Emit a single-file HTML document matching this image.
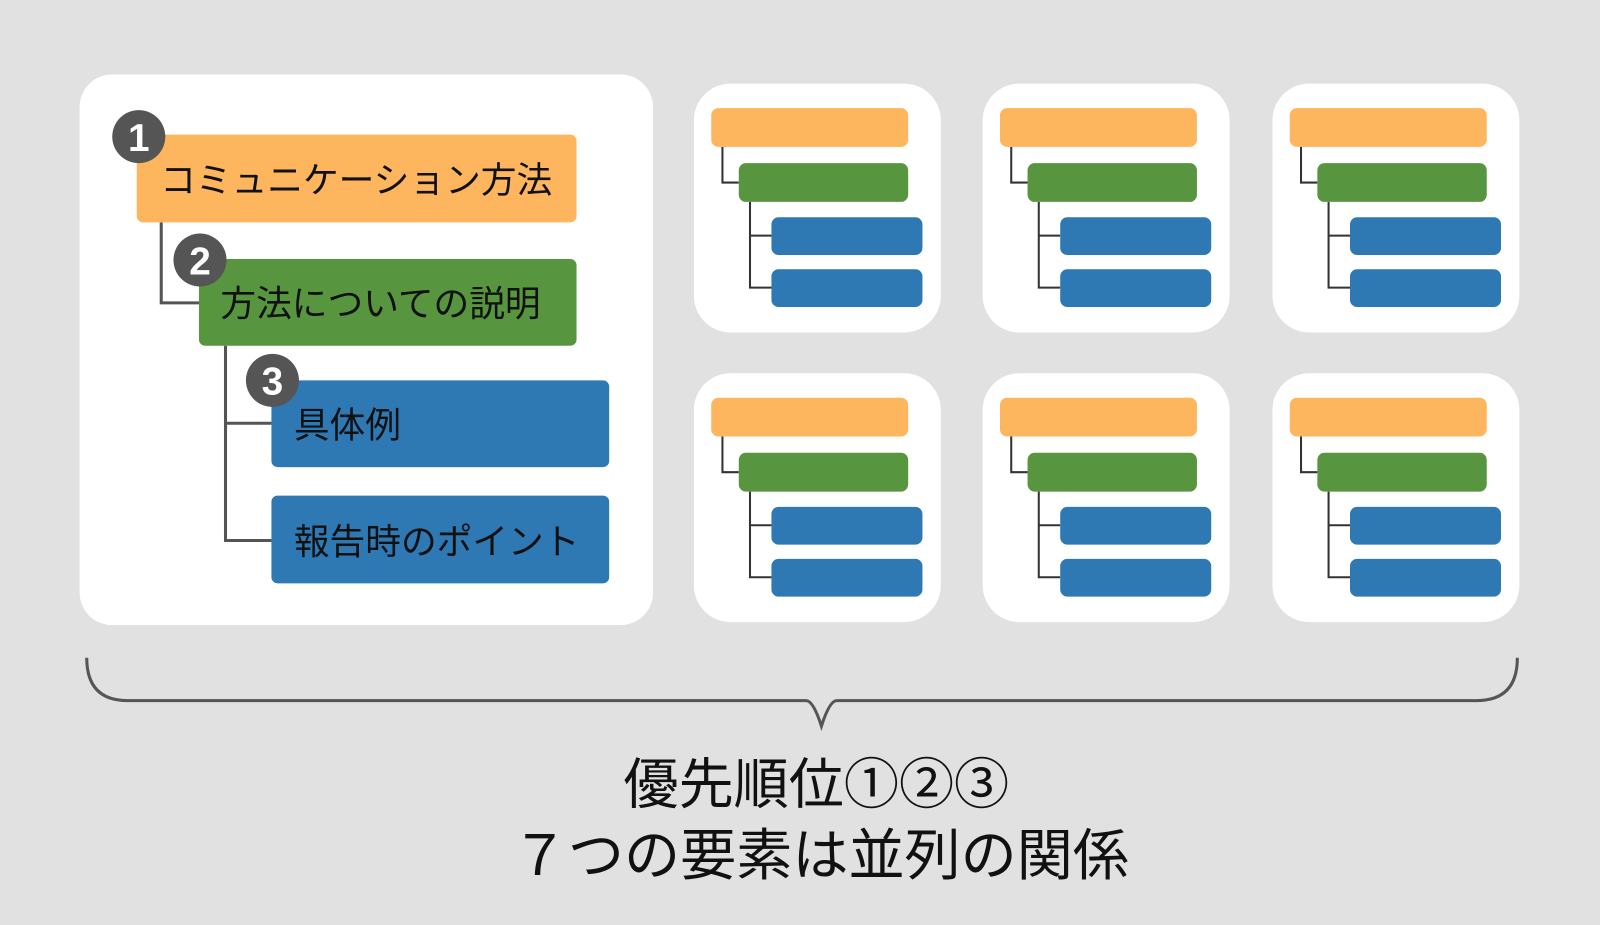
<!DOCTYPE html>
<html><head><meta charset="utf-8"><style>
html,body{margin:0;padding:0;background:#e1e1e1;}
svg{display:block}
text{font-family:"Liberation Sans","Noto Sans CJK JP",sans-serif;}
</style></head><body>
<svg width="1600" height="925" viewBox="0 0 1568 907" preserveAspectRatio="none" xmlns="http://www.w3.org/2000/svg">
<rect width="1568" height="907" fill="#e1e1e1"/>
<defs>
<g id="mini">
<rect x="0" y="0" width="242" height="244" rx="36" fill="#fff"/>
<path d="M28 62 V97 H44 M55 116 V200 H76 M55 149 H76" fill="none" stroke="#333" stroke-width="2"/>
<rect x="17" y="24" width="193" height="38" rx="7" fill="#fdb55e"/>
<rect x="44" y="78" width="166" height="38" rx="7" fill="#58953f"/>
<rect x="76" y="131" width="148" height="37" rx="7" fill="#2e78b4"/>
<rect x="76" y="182" width="148" height="37" rx="7" fill="#2e78b4"/>
</g>
</defs>
<rect x="78" y="73" width="562" height="540" rx="32" fill="#fff"/>
<path d="M158 218 V297 H195 M221 339 V530 H266 M221 415 H266" fill="none" stroke="#555" stroke-width="3"/>
<rect x="134" y="132" width="431" height="86" rx="6" fill="#fdb55e"/>
<rect x="195" y="254" width="370" height="85" rx="6" fill="#58953f"/>
<rect x="266" y="373" width="331" height="85" rx="6" fill="#2e78b4"/>
<rect x="266" y="486" width="331" height="86" rx="6" fill="#2e78b4"/>
<text x="157" y="189" font-size="35" fill="#111">コミュニケーション方法</text>
<text x="216" y="310" font-size="35" fill="#111">方法についての説明</text>
<text x="288" y="429" font-size="35" fill="#111">具体例</text>
<text x="288" y="543" font-size="35" fill="#111">報告時のポイント</text>
<circle cx="136" cy="134" r="26" fill="#555"/>
<circle cx="196" cy="255" r="26" fill="#555"/>
<circle cx="267" cy="373" r="26" fill="#555"/>
<text x="136" y="148" font-size="38" font-weight="bold" fill="#fff" text-anchor="middle">1</text>
<text x="196" y="269" font-size="38" font-weight="bold" fill="#fff" text-anchor="middle">2</text>
<text x="267" y="387" font-size="38" font-weight="bold" fill="#fff" text-anchor="middle">3</text>
<use href="#mini" x="680" y="82"/>
<use href="#mini" x="963" y="82"/>
<use href="#mini" x="1247" y="82"/>
<use href="#mini" x="680" y="366"/>
<use href="#mini" x="963" y="366"/>
<use href="#mini" x="1247" y="366"/>
<path d="M85 645 Q85 687 125 687 H790 Q797 687 805 712 Q813 687 820 687 H1447 Q1487 687 1487 645" fill="none" stroke="#555" stroke-width="3"/>
<text x="800" y="788" font-size="54" fill="#111" text-anchor="middle">優先順位①②③</text>
<text x="804" y="858" font-size="55" fill="#111" text-anchor="middle">７つの要素は並列の関係</text>
</svg>
</body></html>
